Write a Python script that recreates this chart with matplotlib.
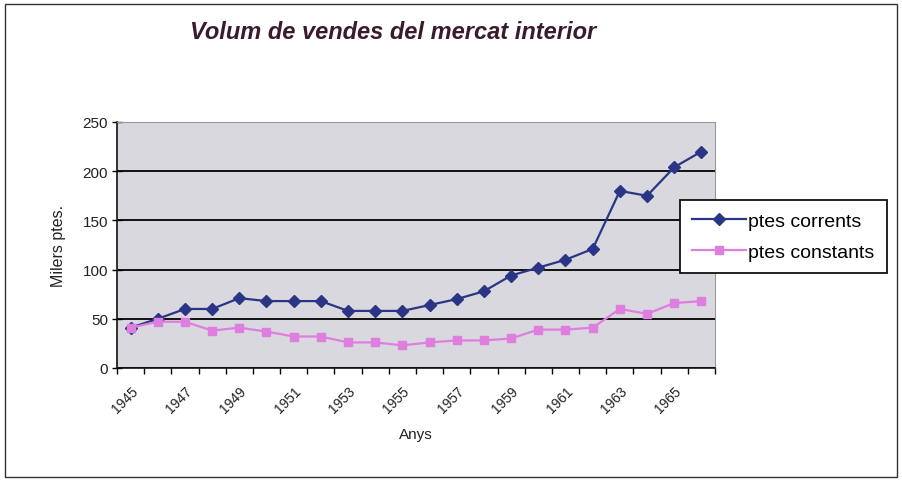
import matplotlib
matplotlib.use("Agg")
import matplotlib.pyplot as plt
from matplotlib.patches import Rectangle
import numpy as np

years = list(range(1945, 1967))
corrents = [41, 50, 60, 60, 71, 68, 68, 68, 58, 58, 58, 64, 70, 78, 94, 102, 110, 121, 180, 175, 204, 220]
constants = [41, 47, 47, 38, 41, 37, 32, 32, 26, 26, 23, 26, 28, 28, 30, 39, 39, 41, 60, 55, 66, 68]
yticks = [0, 50, 100, 150, 200, 250]

plt.rcParams['font.family'] = ['Liberation Sans', 'DejaVu Sans']

fig = plt.figure(figsize=(9.03, 4.81), dpi=100)
fig.patch.set_facecolor('white')
fig.patches.append(Rectangle((5/903, 3/481), 892/903, 473/481, transform=fig.transFigure,
                             fill=False, edgecolor='#333333', linewidth=1.0))

ax = fig.add_axes([117/903, 1 - 369/481, (715 - 117)/903, (369 - 123)/481])
ax.set_facecolor('#d8d8de')

x = np.arange(len(years))
ax.plot(x, corrents, color='#2b3585', marker='D', markersize=6, linewidth=1.6, label='ptes corrents')
ax.plot(x, constants, color='#de7fe0', marker='s', markersize=6, linewidth=1.6, label='ptes constants')

ax.set_xlim(-0.5, len(years) - 0.5)
ax.set_ylim(0, 250)
ax.set_yticks(yticks)
ax.set_yticklabels([str(v) for v in yticks], fontsize=11, color='#222222')
ax.yaxis.grid(True, color='#111111', linewidth=1.4)
ax.set_axisbelow(True)

ax.set_xticks(x[::2])
ax.set_xticklabels([str(y) for y in years[::2]], rotation=45, fontsize=10, ha='right', va='top',
                   rotation_mode='anchor', color='#222222')
ax.set_xticks(np.arange(-0.5, len(years)), minor=True)
ax.tick_params(axis='x', which='major', length=0, pad=11)
ax.tick_params(axis='x', which='minor', length=4, direction='out', width=1)
ax.tick_params(axis='y', length=7, direction='inout', width=1, pad=3)

for s in ['top', 'right']:
    ax.spines[s].set_color('#999999')
    ax.spines[s].set_linewidth(0.8)
for s in ['left', 'bottom']:
    ax.spines[s].set_color('#111111')
    ax.spines[s].set_linewidth(1.2)

ax.set_ylabel('Milers ptes.', fontsize=11.5, labelpad=12, color='#222222')
ax.set_xlabel('Anys', fontsize=11, labelpad=9, color='#222222')

fig.text(393/903, 1 - 33/481, 'Volum de vendes del mercat interior', fontsize=17, fontweight='bold',
         fontstyle='italic', color='#3a1a2e', ha='center', va='center')

leg = fig.legend(loc='upper left', bbox_to_anchor=(680/903, 1 - 201/481), fontsize=14,
                 frameon=True, fancybox=False, edgecolor='#111111', framealpha=1,
                 handlelength=2.75, handletextpad=0.15, borderpad=0.62, labelspacing=0.72,
                 borderaxespad=0)
leg.get_frame().set_linewidth(1.3)

fig.savefig('out.png', dpi=100)
